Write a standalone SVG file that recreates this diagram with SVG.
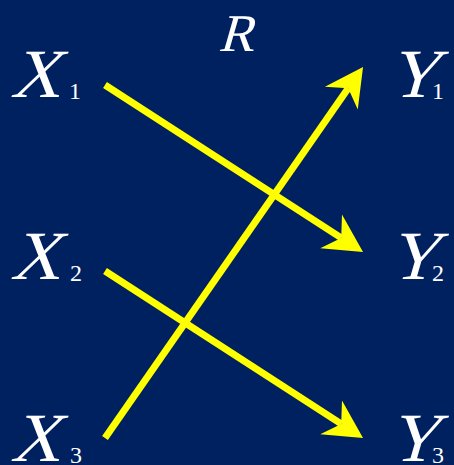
<svg xmlns="http://www.w3.org/2000/svg" width="454" height="465" viewBox="0 0 454 465">
<style>
.v{font-family:"Liberation Serif","Times New Roman",serif;font-size:69px;fill:#fff}
.r{font-family:"Liberation Serif","Times New Roman",serif;font-size:53px;fill:#fff}
.s{font-family:"Liberation Serif","Times New Roman",serif;font-size:24px;fill:#fff}
.c{stroke:#ffff00;stroke-width:7;fill:none;marker-end:url(#ah)}
</style>
<defs>
<marker id="ah" markerUnits="userSpaceOnUse" viewBox="0 -21 39 42" markerWidth="39" markerHeight="42" refX="12" refY="0" orient="auto" overflow="visible">
<path d="M38,0 L0,-20 L12,0 L0,20 Z" fill="#ffff00"/>
</marker>
</defs>
<rect width="454" height="465" fill="#00215f"/>
<g id="connectors">
<line class="c" x1="105" y1="85" x2="341.2" y2="237.9"/>
<line class="c" x1="105" y1="271" x2="341.2" y2="423.9"/>
<line class="c" x1="105" y1="438" x2="348.2" y2="88.3"/>
</g>
<g id="R"><text class="r" transform="translate(218,51) skewX(-16)">R</text></g>
<g id="X1"><text class="v" transform="translate(10,97) skewX(-16)">X</text><text class="s" x="69" y="99">1</text></g>
<g id="X2"><text class="v" transform="translate(10,279) skewX(-16)">X</text><text class="s" x="70" y="281">2</text></g>
<g id="X3"><text class="v" transform="translate(10,461) skewX(-16)">X</text><text class="s" x="70" y="463">3</text></g>
<g id="Y1"><text class="v" transform="translate(388,97) skewX(-16)">Y</text><text class="s" x="432" y="99">1</text></g>
<g id="Y2"><text class="v" transform="translate(388,279) skewX(-16)">Y</text><text class="s" x="432" y="281">2</text></g>
<g id="Y3"><text class="v" transform="translate(388,461) skewX(-16)">Y</text><text class="s" x="432" y="463">3</text></g>
</svg>
